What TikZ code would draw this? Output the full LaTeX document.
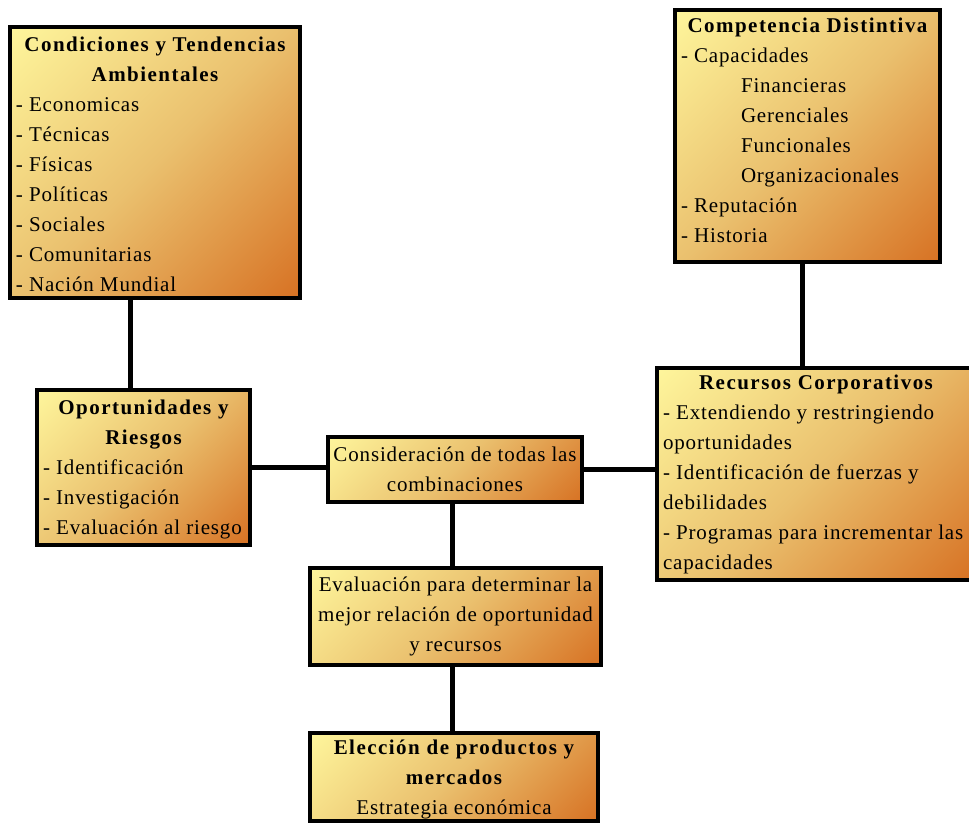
\documentclass[tikz,border=0pt]{standalone}
\usepackage{fontspec}
\usetikzlibrary{backgrounds}
\setmainfont{Liberation Serif}[LetterSpace=4,BoldFeatures={LetterSpace=7}]
\definecolor{boxtop}{RGB}{255,248,158}
\definecolor{boxmid}{RGB}{234,192,110}
\definecolor{boxbot}{RGB}{214,110,32}
% diagonal gradient: pale yellow (top left) to orange (bottom right)
\pgfdeclareverticalshading{boxdiag}{100bp}{color(0bp)=(boxbot); color(13bp)=(boxbot);
  color(50bp)=(boxmid); color(87bp)=(boxtop); color(100bp)=(boxtop)}
\newcommand\ctrline[1]{\hbox to\hsize{\hss#1\hss}}
\newcommand\lftline[1]{\hbox to\hsize{#1\hss}}
\newcommand\boxtext[3][0]{\vbox{\hsize=#2pt \vskip#1pt #3}}
\newcommand\boxtextup[3]{\vbox{\hsize=#2pt #3\vskip#1pt}}
\begin{document}
\begin{tikzpicture}[x=1pt,y=-1pt,
  box/.style={draw=black, line width=3.2pt, shade, shading=boxdiag, shading angle=45,
    inner sep=0pt, font=\fontsize{21}{30}\selectfont},
  link/.style={line width=5pt}]
\useasboundingbox (0,0) rectangle (969,823);
% boxes
\node[box, minimum width=290pt, minimum height=271pt] (cond) at (155,162.5)
  {\boxtext[4]{278}{\ctrline{\bfseries Condiciones y Tendencias}\ctrline{\bfseries Ambientales}%
   \lftline{- Economicas}\lftline{- Técnicas}\lftline{- Físicas}\lftline{- Políticas}%
   \lftline{- Sociales}\lftline{- Comunitarias}\lftline{- Nación Mundial}}};
\node[box, minimum width=265pt, minimum height=252pt] (comp) at (807.5,136)
  {\boxtextup{11}{253}{\ctrline{\bfseries Competencia Distintiva}\lftline{- Capacidades}%
   \lftline{\hspace*{60pt}Financieras}\lftline{\hspace*{60pt}Gerenciales}%
   \lftline{\hspace*{60pt}Funcionales}\lftline{\hspace*{60pt}Organizacionales}%
   \lftline{- Reputación}\lftline{- Historia}}};
\node[box, minimum width=213pt, minimum height=155pt] (opor) at (143.5,467.5)
  {\boxtext[4]{201}{\ctrline{\bfseries Oportunidades y}\ctrline{\bfseries Riesgos}%
   \lftline{- Identificación}\lftline{- Investigación}\lftline{- Evaluación al riesgo}}};
\node[box, minimum width=254pt, minimum height=65pt] (cons) at (455,469.5)
  {\boxtext{242}{\ctrline{Consideración de todas las}\ctrline{combinaciones}}};
\node[box, minimum width=318pt, minimum height=212pt] (recu) at (816,474)
  {\boxtext{306}{\ctrline{\bfseries Recursos Corporativos}%
   \lftline{- Extendiendo y restringiendo}\lftline{oportunidades}%
   \lftline{- Identificación de fuerzas y}\lftline{debilidades}%
   \lftline{- Programas para incrementar las}\lftline{capacidades}}};
\node[box, minimum width=291pt, minimum height=97pt] (eval) at (455.5,616.5)
  {\boxtext{279}{\ctrline{Evaluación para determinar la}\ctrline{mejor relación de oportunidad}%
   \ctrline{y recursos}}};
\node[box, minimum width=288pt, minimum height=88pt] (elec) at (454,777)
  {\boxtext[5]{276}{\ctrline{\bfseries Elección de productos y}\ctrline{\bfseries mercados}%
   \ctrline{Estrategia económica}}};
% connectors
\coordinate (c1) at (130,0);
\coordinate (c2) at (802,0);
\coordinate (c3) at (452,0);
\begin{scope}[on background layer]
\draw[link] (cond.south -| c1) -- (opor.north -| c1);
\draw[link] (opor.east) -- (opor.east -| cons.west);
\draw[link] (cons.east) -- (cons.east -| recu.west);
\draw[link] (comp.south -| c2) -- (recu.north -| c2);
\draw[link] (cons.south -| c3) -- (eval.north -| c3);
\draw[link] (eval.south -| c3) -- (elec.north -| c3);
\end{scope}
\end{tikzpicture}
\end{document}
